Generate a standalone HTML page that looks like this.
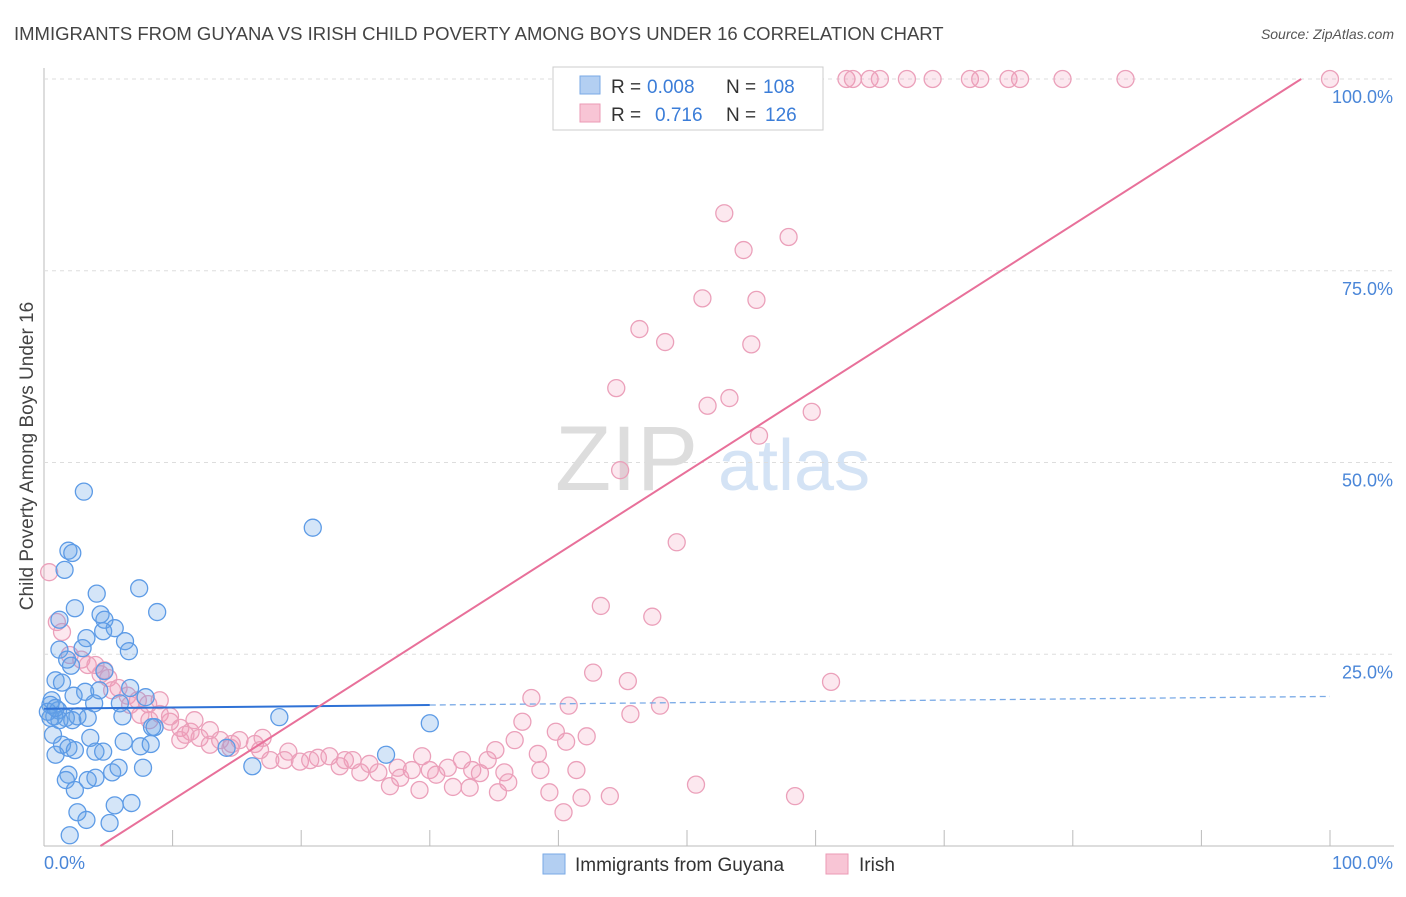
<!DOCTYPE html>
<html><head><meta charset="utf-8"><style>
body{margin:0;background:#fff;font-family:"Liberation Sans",sans-serif}
svg text{font-family:"Liberation Sans",sans-serif}
</style></head><body>
<svg id="chart" width="1406" height="892" xmlns="http://www.w3.org/2000/svg">
<text x="14" y="40" font-size="18.5" fill="#444">IMMIGRANTS FROM GUYANA VS IRISH CHILD POVERTY AMONG BOYS UNDER 16 CORRELATION CHART</text>
<text x="1394" y="39" font-size="14" fill="#555" text-anchor="end" font-style="italic">Source: ZipAtlas.com</text>
<text x="555" y="490" font-size="92" fill="#ddd" font-family="Liberation Serif">ZIP</text>
<text x="718" y="490" font-size="72" fill="#d4e3f5">atlas</text>
<text transform="translate(33,456) rotate(-90)" font-size="19" fill="#444" text-anchor="middle">Child Poverty Among Boys Under 16</text>
<g id="grid"></g><g id="marks"></g>
<g>
<rect x="553" y="67" width="270" height="63" fill="#fff" stroke="#ccc"/>
<rect x="580" y="76" width="20" height="18" fill="#b3cff2" stroke="#7aaae6"/>
<rect x="580" y="104" width="20" height="18" fill="#f8c5d5" stroke="#eb9ab5"/>
<text x="611" y="93" font-size="19" fill="#333">R =</text>
<text x="647" y="93" font-size="19" fill="#3b7dd8">0.008</text>
<text x="726" y="93" font-size="19" fill="#333">N =</text>
<text x="763" y="93" font-size="19" fill="#3b7dd8">108</text>
<text x="611" y="121" font-size="19" fill="#333">R =</text>
<text x="655" y="121" font-size="19" fill="#3b7dd8">0.716</text>
<text x="726" y="121" font-size="19" fill="#333">N =</text>
<text x="765" y="121" font-size="19" fill="#3b7dd8">126</text>
</g>
<g>
<rect x="543" y="854" width="22" height="20" fill="#b3cff2" stroke="#7aaae6"/>
<text x="575" y="871" font-size="19" fill="#333">Immigrants from Guyana</text>
<rect x="826" y="854" width="22" height="20" fill="#f8c5d5" stroke="#eb9ab5"/>
<text x="859" y="871" font-size="19" fill="#333">Irish</text>
</g>
</svg>
<script>
const yTicks=[25,50,75,100];
const yTickLabels=["25.0%","50.0%","75.0%","100.0%"];
const xTickLabels=["0.0%","100.0%"];
const bluePx=[[84,492],[68,551],[72,553],[313,528],[64,570],[139,588],[97,594],[157,612],[75,608],[100,614],[104,620],[59,620],[115,628],[103,631],[87,638],[125,641],[129,651],[60,650],[83,648],[67,660],[71,666],[105,671],[56,680],[62,683],[130,688],[99,690],[85,692],[73,696],[145,697],[52,700],[94,703],[120,703],[279,717],[122,716],[152,727],[155,727],[430,723],[58,710],[78,716],[66,718],[88,718],[50,718],[54,716],[60,720],[72,720],[124,742],[90,738],[62,745],[69,748],[96,752],[75,750],[103,752],[140,746],[151,744],[386,755],[227,748],[252,766],[143,768],[112,772],[118,768],[69,775],[96,778],[66,780],[88,780],[75,790],[115,805],[131,803],[77,812],[87,820],[109,823],[70,835],[53,735],[55,755],[50,705],[48,712],[56,708]];
const pinkPx=[[1330,79],[846,79],[853,79],[869,79],[880,79],[907,79],[932,79],[970,79],[980,79],[1008,79],[1020,79],[1062,79],[1126,79],[724,213],[743,250],[789,237],[702,298],[756,300],[639,329],[665,342],[751,344],[616,388],[708,406],[730,398],[812,412],[759,436],[620,470],[677,542],[601,606],[652,617],[49,572],[57,622],[62,632],[70,655],[81,660],[88,665],[95,665],[104,670],[108,678],[118,688],[128,696],[138,700],[148,704],[160,714],[170,722],[180,728],[190,732],[200,738],[210,730],[220,740],[232,744],[240,740],[255,744],[262,738],[270,760],[288,752],[300,762],[318,758],[330,756],[340,766],[352,760],[360,772],[370,764],[378,772],[390,786],[400,778],[412,770],[422,756],[430,770],[436,775],[453,787],[462,760],[472,770],[480,773],[488,760],[495,750],[505,772],[515,740],[522,722],[531,698],[538,754],[541,770],[549,792],[556,732],[566,742],[569,706],[576,770],[582,798],[587,736],[593,673],[610,796],[628,681],[630,714],[660,706],[696,785],[795,796],[831,682],[563,812],[498,792],[420,790],[150,720],[180,740],[195,720],[130,705],[140,715],[112,690],[100,674],[210,745],[230,748],[260,750],[285,760],[310,760],[345,760],[398,768],[448,768],[470,788],[508,782],[160,700],[170,716],[185,735]];
const blueX=bluePx.map(p=>+((p[0]-44)/12.86).toFixed(1)), blueY=bluePx.map(p=>+((846-p[1])/7.67).toFixed(1));
const pinkX=pinkPx.map(p=>+((p[0]-44)/12.86).toFixed(1)), pinkY=pinkPx.map(p=>+((846-p[1])/7.67).toFixed(1));
const blueTrend=[17.9,19.5]; const pinkTrend=[-4.7,102.4];
const X=v=>44+v*12.86, Y=v=>846-v*7.67;
const NS="http://www.w3.org/2000/svg";
function mk(t,a,parent){const e=document.createElementNS(NS,t);for(const k in a)e.setAttribute(k,a[k]);parent.appendChild(e);return e;}
const grid=document.getElementById('grid'), marks=document.getElementById('marks');
const ax=mk('line',{x1:44,y1:68,x2:44,y2:846,stroke:'#bbb'},grid);


const bx=mk('line',{x1:44,y1:846,x2:1394,y2:846,stroke:'#bbb'},grid);


for(let i=1;i<=10;i++){const t=mk('line',{x1:44+i*128.6,y1:830,x2:44+i*128.6,y2:846,stroke:'#bbb'},grid);

}
yTicks.forEach((v,i)=>{const g=mk('line',{x1:44,y1:Y(v),x2:1394,y2:Y(v),stroke:'#ddd','stroke-dasharray':'4 4'},grid);


const t=mk('text',{x:1393,y:Y(v)+24,'font-size':18,fill:'#4a86d8','text-anchor':'end'},grid);t.textContent=yTickLabels[i];

});
[[44,'start'],[1393,'end']].forEach((a,i)=>{const t=mk('text',{x:a[0],y:869,'font-size':18,fill:'#4a86d8','text-anchor':a[1]},grid);t.textContent=xTickLabels[i];

});
pinkX.forEach((x,i)=>{const c=mk('circle',{cx:X(x),cy:Y(pinkY[i]),r:8.5,fill:'rgba(242,150,180,0.22)',stroke:'#eba0ba','stroke-width':1.3},marks);

});
blueX.forEach((x,i)=>{const c=mk('circle',{cx:X(x),cy:Y(blueY[i]),r:8.5,fill:'rgba(100,160,230,0.28)',stroke:'#5d9be6','stroke-width':1.3},marks);

});
const bl=mk('line',{x1:X(0),y1:Y(blueTrend[0]),x2:X(30),y2:Y(blueTrend[0]+(blueTrend[1]-blueTrend[0])*0.3),stroke:'#2f72d6','stroke-width':2},marks);


const bd=mk('line',{x1:X(30),y1:Y(blueTrend[0]+(blueTrend[1]-blueTrend[0])*0.3),x2:X(100),y2:Y(blueTrend[1]),stroke:'#7aaae6','stroke-width':1.3,'stroke-dasharray':'6 4'},marks);


const x0=(0-pinkTrend[0])/(pinkTrend[1]-pinkTrend[0])*100, x1=(100-pinkTrend[0])/(pinkTrend[1]-pinkTrend[0])*100;
const pl=mk('line',{x1:X(x0),y1:Y(0),x2:X(x1),y2:Y(100),stroke:'#e8709a','stroke-width':2},marks);


</script>
</body></html>
